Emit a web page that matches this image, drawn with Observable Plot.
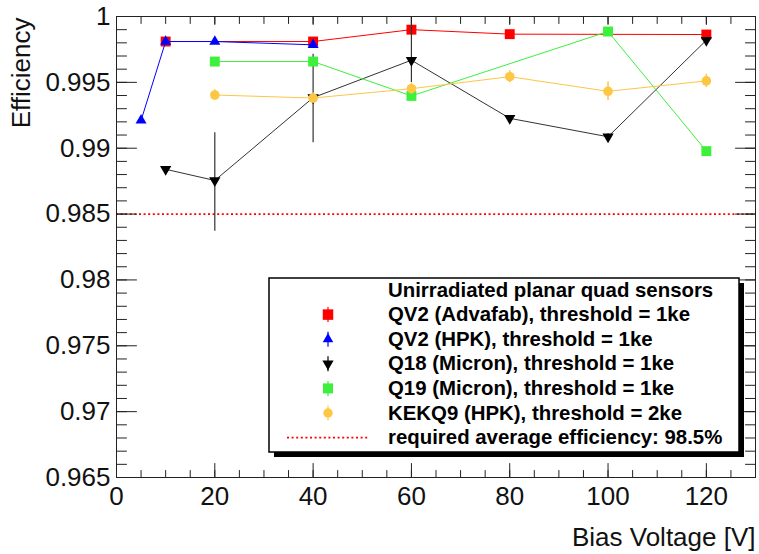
<!DOCTYPE html>
<html><head><meta charset="utf-8">
<script src="https://cdn.jsdelivr.net/npm/d3@7"></script>
<script src="https://cdn.jsdelivr.net/npm/@observablehq/plot@0.6"></script>
<style>body{margin:0;background:#fff} svg{display:block}</style>
</head><body><div id="chart"></div>
<script>
// ---- data ----
const redX = [10, 40, 60, 80, 120];
const redY = [0.9981, 0.9981, 0.9990, 0.99866, 0.99863];

const blueX = [5, 10, 20, 40];
const blueY = [0.99211, 0.9981, 0.9981, 0.99785];

const blackX = [10, 20, 40, 60, 80, 100, 120];
const blackY = [0.9884, 0.98755, 0.99384, 0.99668, 0.99227, 0.99087, 0.9982];
const blackLo = [0.9882, 0.98369, 0.99041, 0.99498, 0.9921, 0.9906, 0.9981];
const blackHi = [0.9886, 0.99117, 0.99714, 1.0, 0.9924, 0.9911, 0.9983];

const greenX = [20, 40, 60, 100, 120];
const greenY = [0.99658, 0.99658, 0.99397, 0.99886, 0.98978];

const yellowX = [20, 40, 60, 80, 100, 120];
const yellowY = [0.99404, 0.99381, 0.99452, 0.99543, 0.99432, 0.99511];
const yellowErr = [0.0004, 0.0004, 0.0004, 0.00045, 0.0007, 0.0005];

const requiredEff = 0.985;

const yMajor = [0.965, 0.97, 0.975, 0.98, 0.985, 0.99, 0.995, 1];
const xMajor = [0, 20, 40, 60, 80, 100, 120];
const yMinor = d3.range(0, 36).map(i => 0.965 + i * 0.001);
const xMinor = d3.range(0, 26).map(i => i * 5);

const legendHeader = "Unirradiated planar quad sensors";
const legendLabels = [
  "QV2 (Advafab), threshold = 1ke",
  "QV2 (HPK), threshold = 1ke",
  "Q18 (Micron), threshold = 1ke",
  "Q19 (Micron), threshold = 1ke",
  "KEKQ9 (HPK), threshold = 2ke",
  "required average efficiency: 98.5%"
];

const RED = "#ff0000", BLUE = "#0000ff", BLACK = "#000000", GREEN = "#3cf03c", YELLOW = "#fdc643";

function pts(xs, ys, lo, hi) {
  return xs.map((x, i) => ({x, y: ys[i], lo: lo ? lo[i] : ys[i], hi: hi ? hi[i] : ys[i]}));
}
const red = pts(redX, redY);
const blue = pts(blueX, blueY);
const black = pts(blackX, blackY, blackLo, blackHi);
const green = pts(greenX, greenY);
const yellow = pts(yellowX, yellowY, yellowY.map((v, i) => v - yellowErr[i]), yellowY.map((v, i) => v + yellowErr[i]));

const fmt = d => String(+d.toFixed(3));
const AX = "#222";

// plain line shape for tick vectors
const tickShape = {draw(context, l) { context.moveTo(0, 0); context.lineTo(0, -l); }};
const ticks = (data, side, len) => {
  const o = {shape: tickShape, anchor: "start", length: len, stroke: AX, strokeWidth: 1, frameAnchor: side};
  if (side === "left") return Plot.vector(data, {...o, y: d => d, rotate: 90});
  if (side === "right") return Plot.vector(data, {...o, y: d => d, rotate: -90});
  if (side === "bottom") return Plot.vector(data, {...o, x: d => d, rotate: 0});
  return Plot.vector(data, {...o, x: d => d, rotate: 180});
};

const plot = Plot.plot({
  width: 759,
  height: 554,
  marginLeft: 116,
  marginRight: 4,
  marginTop: 16,
  marginBottom: 77,
  style: {fontFamily: "'Liberation Sans', Arial, Helvetica, sans-serif", fontSize: "26px", background: "white", color: "#111"},
  x: {domain: [0, 130]},
  y: {domain: [0.965, 1]},
  marks: [
    Plot.ruleY([requiredEff], {stroke: RED, strokeWidth: 1.8, strokeDasharray: "2,2.6"}),
    // red
    Plot.line(red, {x: "x", y: "y", stroke: RED, strokeWidth: 1}),
    Plot.dot(red, {x: "x", y: "y", symbol: "square", r: 5.6, fill: RED}),
    // blue
    Plot.line(blue, {x: "x", y: "y", stroke: BLUE, strokeWidth: 1}),
    Plot.dot(blue, {x: "x", y: "y", symbol: "triangle", r: 4.1, fill: BLUE}),
    // black
    Plot.line(black, {x: "x", y: "y", stroke: "#333", strokeWidth: 1}),
    Plot.ruleX(black, {x: "x", y1: "lo", y2: "hi", stroke: "#333", strokeWidth: 1.2, clip: true}),
    Plot.dot(black, {x: "x", y: "y", symbol: "triangle", rotate: 180, r: 4.2, fill: BLACK}),
    // green
    Plot.line(green, {x: "x", y: "y", stroke: GREEN, strokeWidth: 1}),
    Plot.dot(green, {x: "x", y: "y", symbol: "square", r: 5.6, fill: GREEN}),
    // yellow
    Plot.line(yellow, {x: "x", y: "y", stroke: YELLOW, strokeWidth: 1}),
    Plot.ruleX(yellow, {x: "x", y1: "lo", y2: "hi", stroke: YELLOW, strokeWidth: 1.5}),
    Plot.dot(yellow, {x: "x", y: "y", r: 4.8, fill: YELLOW}),
    // inward ticks on all four sides
    ticks(yMinor, "left", 10),
    ticks(yMajor, "left", 20),
    ticks(yMinor, "right", 10),
    ticks(yMajor, "right", 20),
    ticks(xMinor, "bottom", 7),
    ticks(xMajor, "bottom", 14),
    ticks(xMinor, "top", 7),
    ticks(xMajor, "top", 8),
    // tick labels
    Plot.axisY(yMajor, {anchor: "left", tickSize: 0, tickPadding: 6, stroke: "none", fill: "#111", tickFormat: fmt, label: null}),
    Plot.axisX(xMajor, {anchor: "bottom", tickSize: 0, tickPadding: 9, stroke: "none", fill: "#111", tickFormat: d => String(d), label: null}),
    Plot.frame({stroke: AX, strokeWidth: 1}),
    // axis titles
    Plot.text(["Efficiency"], {frameAnchor: "top-left", text: d => d, rotate: -90, textAnchor: "end", dx: -105, dy: 1, fill: "#111"}),
    Plot.text(["Bias Voltage [V]"], {frameAnchor: "bottom-right", text: d => d, textAnchor: "end", dx: 0, dy: 68, fill: "#111"})
  ]
});

document.getElementById("chart").appendChild(plot);

// ---- legend box ----
const svg = d3.select(plot);
const lg = svg.append("g")
  .attr("font-family", "'Liberation Sans', Arial, Helvetica, sans-serif")
  .attr("font-weight", "bold")
  .attr("font-size", 20.4)
  .attr("text-anchor", "start")
  .attr("fill", "#000");
lg.append("rect").attr("x", 274).attr("y", 283).attr("width", 470).attr("height", 174).attr("fill", "#000");
lg.append("rect").attr("x", 269).attr("y", 278).attr("width", 470).attr("height", 174)
  .attr("fill", "#fff").attr("stroke", "#000").attr("stroke-width", 1.5);

const textX = 388, markX = 328;
const base0 = 296.5, step = 24.6;
lg.append("text").attr("x", textX).attr("y", base0).attr("text-anchor", "start").text(legendHeader);

const legendStyles = [
  {color: RED, sym: d3.symbolSquare, size: 110, rot: 0},
  {color: BLUE, sym: d3.symbolTriangle, size: 48, rot: 0},
  {color: BLACK, sym: d3.symbolTriangle, size: 55, rot: 180},
  {color: GREEN, sym: d3.symbolSquare, size: 100, rot: 0},
  {color: YELLOW, sym: d3.symbolCircle, size: 70, rot: 0},
  null
];
legendLabels.forEach((lab, i) => {
  const b = base0 + step * (i + 1);
  const cy = b - 6.5;
  const st = legendStyles[i];
  if (st) {
    lg.append("line").attr("x1", markX).attr("x2", markX).attr("y1", cy - 7.5).attr("y2", cy + 7.5)
      .attr("stroke", st.color).attr("stroke-width", 1.2);
    lg.append("path").attr("d", d3.symbol(st.sym, st.size)())
      .attr("transform", `translate(${markX},${cy}) rotate(${st.rot})`)
      .attr("fill", st.color);
  } else {
    lg.append("line").attr("x1", 287).attr("x2", 369).attr("y1", cy).attr("y2", cy)
      .attr("stroke", RED).attr("stroke-width", 1.8).attr("stroke-dasharray", "2,2.6");
  }
  lg.append("text").attr("x", textX).attr("y", b).attr("text-anchor", "start").text(lab);
});
</script>
</body></html>
